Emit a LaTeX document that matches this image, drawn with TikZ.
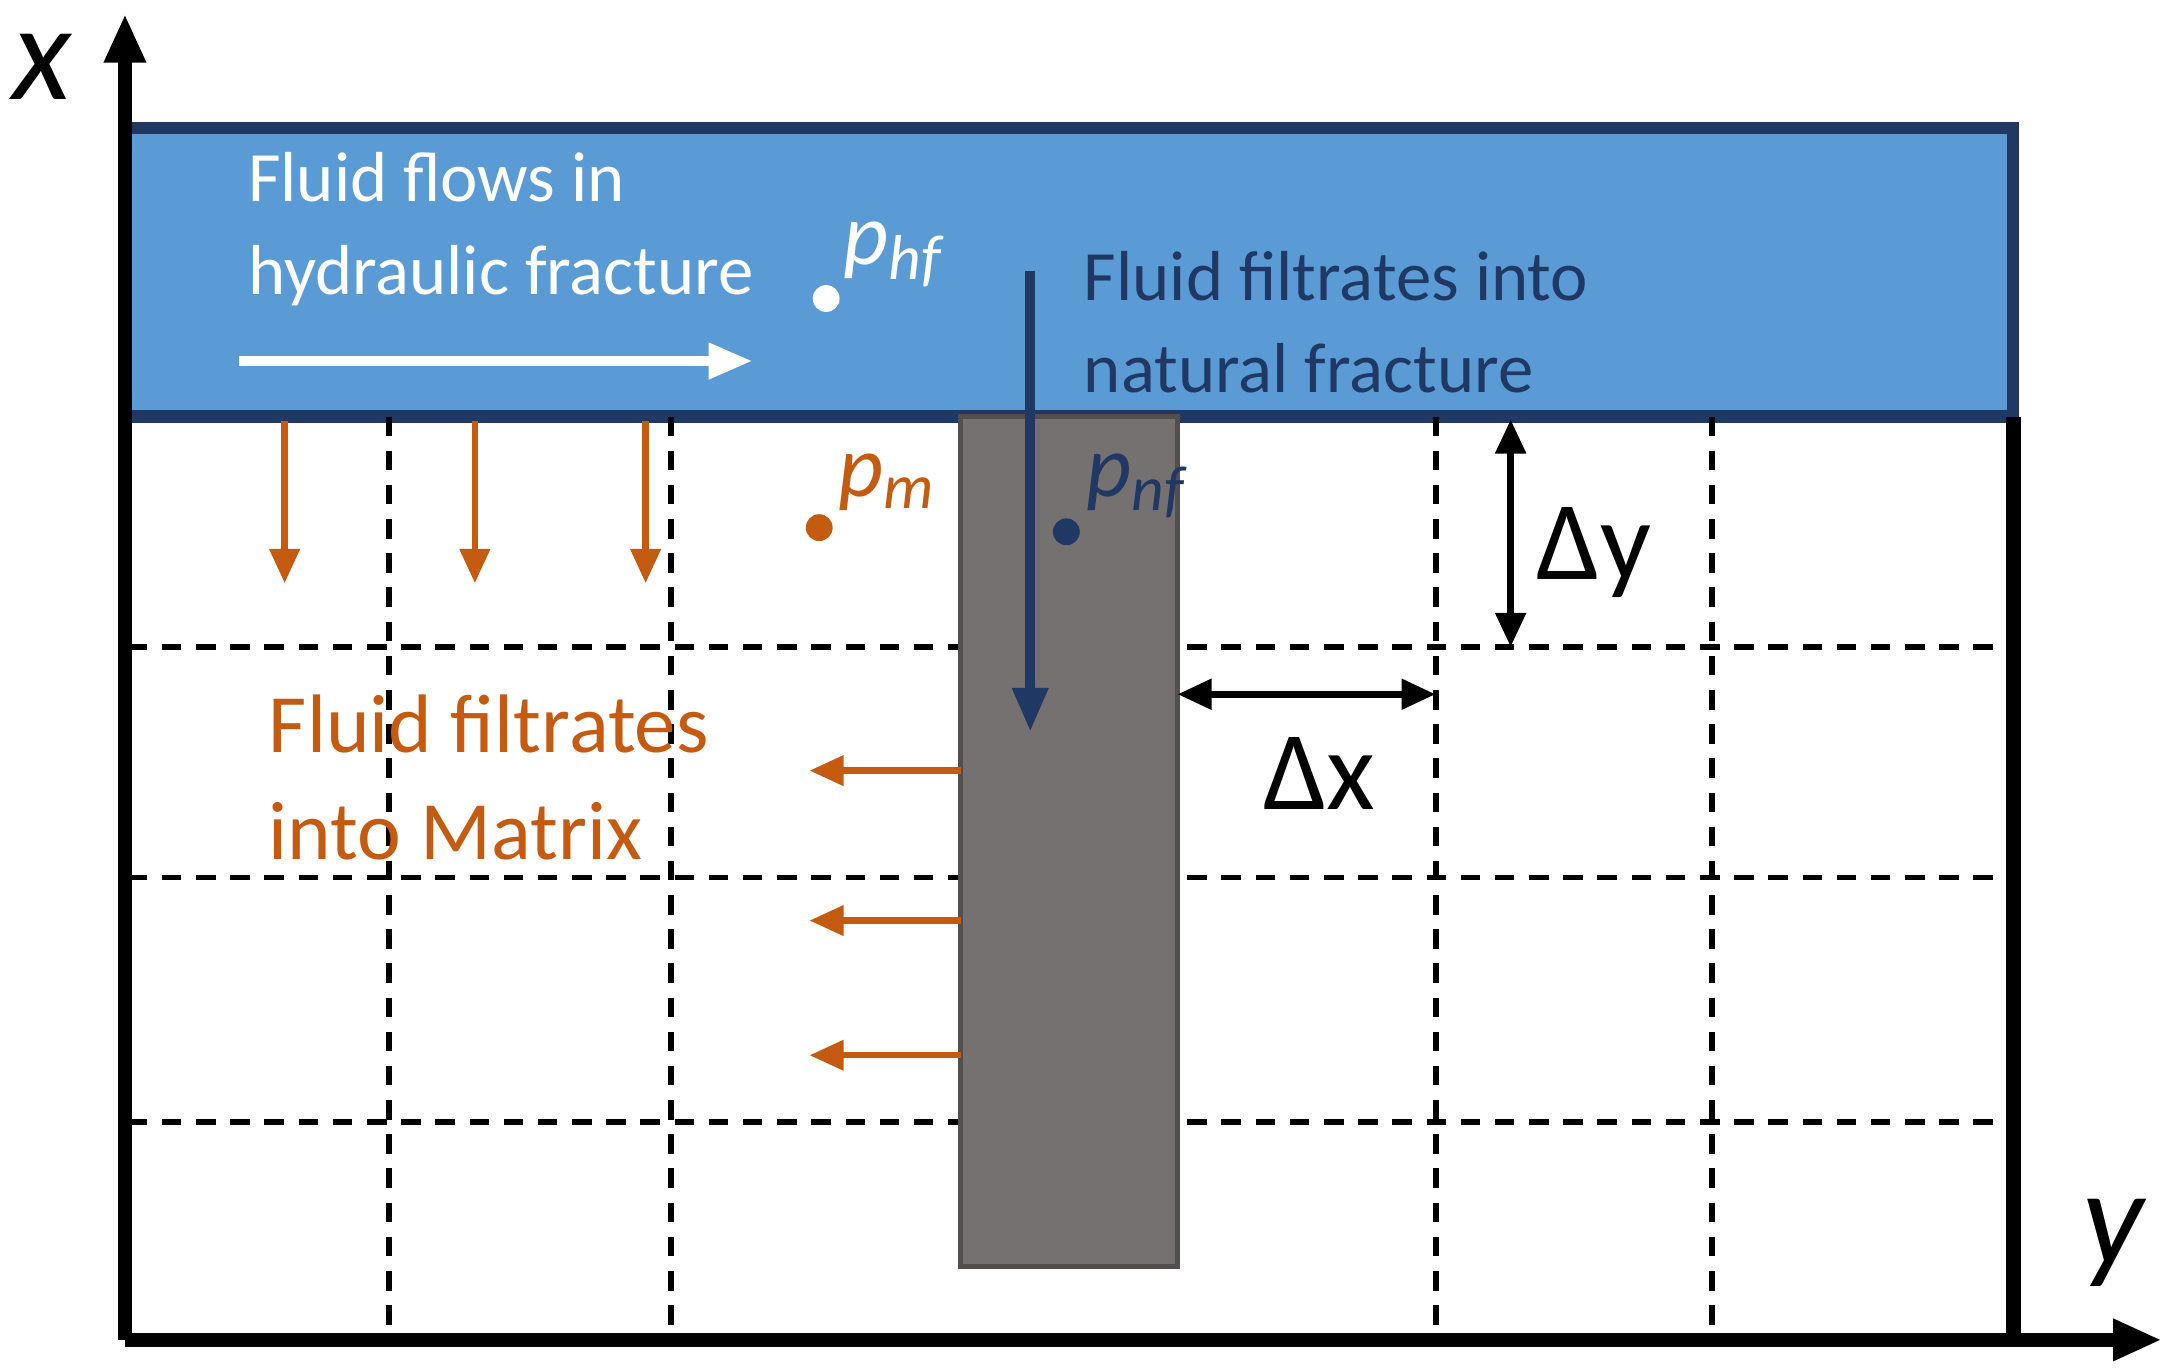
\documentclass[tikz,border=0pt]{standalone}
\usepackage{fontspec}
\setmainfont{Carlito}
\usetikzlibrary{arrows.meta}
\definecolor{hf}{HTML}{5B9BD5}
\definecolor{navy}{HTML}{1F3864}
\definecolor{org}{HTML}{C55A11}
\definecolor{nf}{HTML}{767171}
\begin{document}
\begin{tikzpicture}[x=0.01cm,y=-0.01cm,
  grid/.style={black,dashed,line width=1.2pt,dash pattern=on 4pt off 3pt},
  oarr/.style={org,line width=1.3pt,-{Triangle[length=7pt,width=6pt]}},
  lbl/.style={font=\fontsize{14.5pt}{17pt}\selectfont,align=left,anchor=west,inner sep=0},
  dot/.style={circle,inner sep=0,minimum size=5.5pt}]
\useasboundingbox (0,0) rectangle (1560,987);
% blue fracture
\fill[hf,draw=navy,line width=2.5pt] (90,92) rectangle (1450,300);
% grid
\foreach \x in {280,483,1034,1233} \draw[grid] (\x,300) -- (\x,962);
\foreach \y in {466,632,808} \draw[grid] (92,\y) -- (1448,\y);
% box right
\draw[line width=3pt] (1450,300) -- (1450,965);
% natural fracture
\fill[nf,draw=nf!70!black,line width=1pt] (692,300) rectangle (848,912);
% axes
\coordinate (o) at (90,965);
\coordinate (xe) at (90,10);
\coordinate (ye) at (1557,965);
\draw[line width=3pt,-{Triangle[length=10pt,width=8pt]}] (o) -- (xe);
\draw[line width=3pt,-{Triangle[length=10pt,width=8pt]}] (o) -- (ye);
\node[font=\fontsize{28pt}{28pt}\selectfont\itshape] (xl) at (30,48) {x};
\node[font=\fontsize{28pt}{28pt}\selectfont\itshape] (yl) at (1522,895) {y};
% hydraulic fracture texts
\node[lbl,white] (t1) at (178,165) {Fluid flows in\\[2pt]hydraulic fracture};
\coordinate (wa) at (172,260); \coordinate (wb) at (542,260);
\draw[white,line width=2pt,-{Triangle[length=9pt,width=7pt]}] (wa) -- (wb);
\node[dot,fill=white] (dhf) at (595,215) {};
\node[white,font=\fontsize{18pt}{18pt}\selectfont\itshape,anchor=west,inner sep=0] (phf) at (607,183) {p\textsubscript{\fontsize{13pt}{13pt}\selectfont hf}};
\node[lbl,navy] (t2) at (780,232) {Fluid filtrates into\\[2pt]natural fracture};
\coordinate (na) at (742,195); \coordinate (nb) at (742,527);
\draw[navy,line width=2pt,-{Triangle[length=9pt,width=7pt]}] (na) -- (nb);
\node[dot,fill=navy] (dnf) at (768,383) {};
\node[navy,font=\fontsize{18pt}{18pt}\selectfont\itshape,anchor=west,inner sep=0] (pnf) at (782,350) {p\textsubscript{\fontsize{13pt}{13pt}\selectfont nf}};
% matrix
\foreach \x in {205,342,465} \draw[oarr] (\x,303) -- (\x,420);
\foreach \y in {555,663,760} \draw[oarr] (692,\y) -- (583,\y);
\node[dot,fill=org] (dm) at (590,380) {};
\node[org,font=\fontsize{18pt}{18pt}\selectfont\itshape,anchor=west,inner sep=0] (pm) at (603,347) {p\textsubscript{\fontsize{13pt}{13pt}\selectfont m}};
\node[lbl,org,font=\fontsize{17pt}{20pt}\selectfont] (t3) at (193,560) {Fluid filtrates\\[2pt]into Matrix};
% deltas
\coordinate (ya) at (1088,302); \coordinate (yb) at (1088,466);
\draw[line width=1.5pt,{Triangle[length=7pt,width=6pt]}-{Triangle[length=7pt,width=6pt]}] (ya) -- (yb);
\node[font=\fontsize{23pt}{23pt}\selectfont] (dy) at (1148,398) {Δy};
\coordinate (xa) at (848,500); \coordinate (xb) at (1034,500);
\draw[line width=1.5pt,{Triangle[length=7pt,width=6pt]}-{Triangle[length=7pt,width=6pt]}] (xa) -- (xb);
\node[font=\fontsize{23pt}{23pt}\selectfont] (dx) at (950,557) {Δx};
\end{tikzpicture}
\end{document}
